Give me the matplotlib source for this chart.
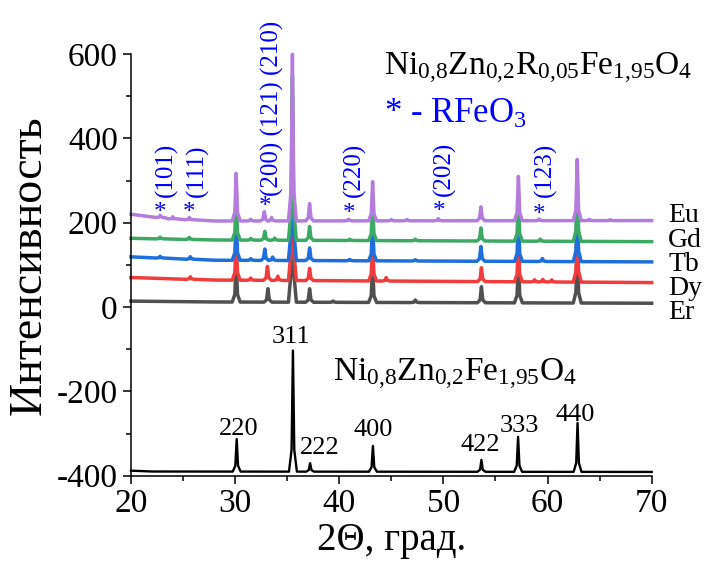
import numpy as np
import matplotlib
matplotlib.use('Agg')
import matplotlib.pyplot as plt

plt.rcParams['font.family'] = ['Liberation Serif', 'DejaVu Serif']
plt.rcParams['mathtext.fontset'] = 'custom'
plt.rcParams['mathtext.rm'] = 'Liberation Serif'
plt.rcParams['mathtext.it'] = 'Liberation Serif:italic'
plt.rcParams['axes.unicode_minus'] = False

# ---- data (2theta in degrees, intensity in a.u.) ----
SAMPLES = ['Er', 'Dy', 'Tb', 'Gd', 'Eu']
COLORS = ['#505050', '#f03c3c', '#1e6edc', '#3caa64', '#b47ddc']

# baselines of the doped samples: (x, y) points
er_base_x = [20, 28, 70]
er_base_y = [14, 12, 9]
dy_base_x = [20, 28, 70]
dy_base_y = [70, 64, 58]
tb_base_x = [20, 28, 70]
tb_base_y = [119, 111, 107]
gd_base_x = [20, 28, 70]
gd_base_y = [163, 159, 155]
eu_base_x = [20, 24, 28, 70]
eu_base_y = [220, 209, 204, 205]

# peaks: (position, height above baseline)
er_peaks = [(30.1, 100), (33.15, 32), (35.5, 390), (37.15, 32), (39.4, 3),
            (43.2, 90), (47.3, 6), (53.65, 38), (57.2, 100), (62.85, 140)]
dy_peaks = [(25.7, 6), (30.1, 100), (31.5, 5), (33.1, 33), (34.1, 10),
            (35.5, 390), (37.15, 29), (43.2, 90), (44.5, 8), (53.65, 33),
            (57.2, 100), (58.75, 5), (59.55, 6), (60.4, 5), (62.85, 140)]
tb_peaks = [(22.8, 4), (25.7, 6), (30.1, 100), (31.5, 4), (32.85, 27),
            (33.6, 8), (35.5, 390), (37.15, 30), (41.0, 3), (43.2, 90),
            (47.3, 3), (53.6, 35), (57.2, 100), (59.5, 7), (62.85, 140)]
gd_peaks = [(22.8, 4), (25.6, 5), (30.1, 100), (31.5, 4), (32.85, 21),
            (33.8, 5), (35.5, 390), (37.15, 33), (41.0, 3), (43.2, 90),
            (47.3, 4), (53.6, 31), (57.2, 100), (59.3, 5), (62.85, 140)]
eu_peaks = [(22.8, 5), (24.0, 5), (25.6, 5), (30.1, 113), (31.5, 4),
            (32.8, 22), (33.5, 8), (35.5, 395), (37.15, 41), (40.9, 4),
            (43.2, 93), (45.0, 3), (46.5, 3), (49.5, 5), (53.6, 33),
            (57.2, 105), (59.2, 4), (62.85, 145), (64.0, 3), (66.0, 2)]

# undoped Ni0.8Zn0.2Fe1.95O4
nzf_base_x = [20, 22, 70]
nzf_base_y = [-388, -390, -391]
nzf_peaks = [(30.15, 77), (35.55, 287), (37.2, 20), (43.23, 61),
             (53.65, 28), (57.17, 83), (62.88, 116)]
nzf_hkl = ['220', '311', '222', '400', '422', '333', '440']
nzf_hkl_x = [30.3, 35.4, 38.1, 43.3, 53.5, 57.3, 62.7]
nzf_hkl_y = [-290, -72, -335, -292, -327, -281, -255]

# RFeO3 reflections
rfeo3_hkl = ['(101)', '(111)', '(200) (121) (210)', '(220)', '(202)', '(123)']
rfeo3_star_x = [22.8, 25.6, 32.85, 40.95, 49.6, 59.2]
rfeo3_star_y = [228, 228, 242, 227, 231, 225]
rfeo3_label_x = [23.35, 26.35, 33.55, 41.4, 50.1, 59.8]
rfeo3_label_y = [262, 262, 263, 260, 264, 260]

label_y = [-14, 45, 102, 158, 218]

# peak shape used to draw each reflection
PROFILE_DX = [-0.38, -0.13, 0.0, 0.13, 0.38]
PROFILE_FR = [0.0, 0.18, 1.0, 0.18, 0.0]


def build_trace(base_x, base_y, peaks):
    xs = list(base_x)
    ys = list(base_y)
    for pos, h in peaks:
        b = np.interp(pos, base_x, base_y)
        for dx, fr in zip(PROFILE_DX, PROFILE_FR):
            xs.append(pos + dx)
            ys.append(b + fr * h)
    order = np.argsort(xs, kind='stable')
    return np.array(xs)[order], np.array(ys)[order]


fig = plt.figure(figsize=(7.05, 5.7), dpi=100)
ax = fig.add_axes([0.1858, 0.1654, 0.7386, 0.7399])

traces = [(er_base_x, er_base_y, er_peaks), (dy_base_x, dy_base_y, dy_peaks),
          (tb_base_x, tb_base_y, tb_peaks), (gd_base_x, gd_base_y, gd_peaks),
          (eu_base_x, eu_base_y, eu_peaks)]
for (bx, by, pk), color in zip(traces, COLORS):
    x, y = build_trace(bx, by, pk)
    ax.plot(x, y, color=color, lw=2.5, solid_joinstyle='round', clip_on=False)

x, y = build_trace(nzf_base_x, nzf_base_y, nzf_peaks)
ax.plot(x, y, color='black', lw=1.7, clip_on=False)

for name, ly in zip(SAMPLES, label_y):
    ax.text(71.6, ly, name, fontsize=20, va='center', ha='left')

for lab, lx, ly in zip(nzf_hkl, nzf_hkl_x, nzf_hkl_y):
    ax.text(lx, ly, lab, fontsize=19, ha='center', va='center')

for lab, sx, sy, lx, ly in zip(rfeo3_hkl, rfeo3_star_x, rfeo3_star_y,
                                rfeo3_label_x, rfeo3_label_y):
    ax.text(sx, sy, '*', fontsize=18, color='blue', ha='center',
            va='center_baseline')
    ax.text(lx, ly, lab, fontsize=18, color='blue', rotation=90,
            ha='center', va='bottom')

ax.text(44.3, 566,
        r'$\mathregular{Ni_{0{,}8}Zn_{0{,}2}R_{0{,}05}Fe_{1{,}95}O_4}$',
        fontsize=24, ha='left', va='center')
ax.text(44.3, 456, r'* - RFeO$\mathregular{_3}$', fontsize=25,
        color='blue', ha='left', va='center')
ax.text(39.4, -160, r'$\mathregular{Ni_{0{,}8}Zn_{0{,}2}Fe_{1{,}95}O_4}$',
        fontsize=24, ha='left', va='center')

ax.set_xlim(20, 70)
ax.set_ylim(-400, 600)
ax.set_xticks(np.arange(20, 71, 10))
ax.set_xticks(np.arange(20, 71, 5), minor=True)
ax.set_yticks(np.arange(-400, 601, 200))
ax.set_yticks(np.arange(-400, 601, 100), minor=True)
for s in ['top', 'right']:
    ax.spines[s].set_visible(False)
for s in ['left', 'bottom']:
    ax.spines[s].set_linewidth(1.1)
ax.tick_params(which='major', direction='out', length=6, width=1.1,
               labelsize=24)
ax.tick_params(which='minor', direction='out', length=3.5, width=1.1)

ax.set_xlabel('2Θ, град.', fontsize=28, labelpad=2)
ax.set_ylabel('Интенсивность', fontsize=33, labelpad=4)

plt.savefig('out.png', dpi=100)
plt.close()
